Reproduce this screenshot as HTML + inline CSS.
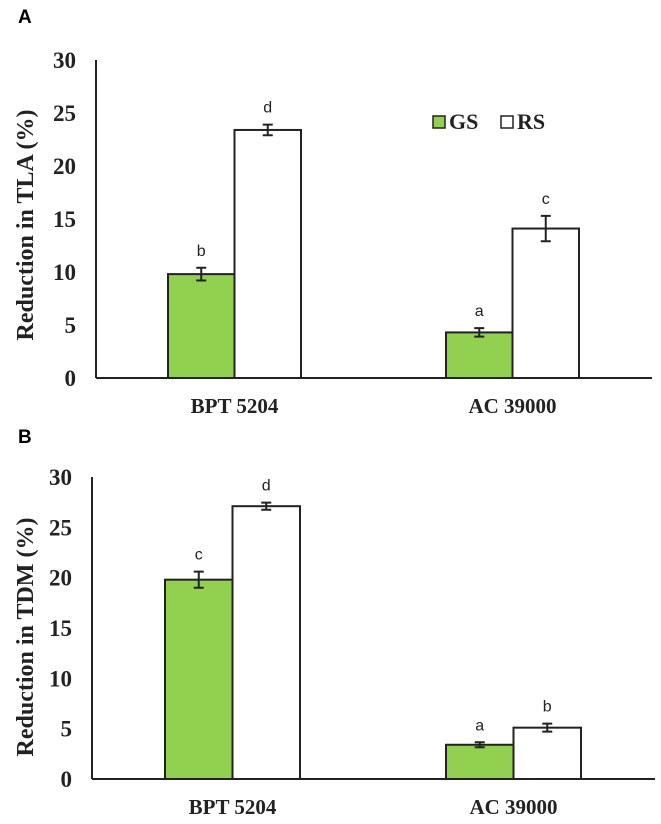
<!DOCTYPE html>
<html><head><meta charset="utf-8"><style>
body{margin:0;background:#fff;}
svg{display:block;}
.tick{font-family:"Liberation Serif",serif;font-weight:bold;font-size:23px;fill:#222;}
.ttl{font-family:"Liberation Serif",serif;font-weight:bold;font-size:24px;fill:#222;}
.lg{font-family:"Liberation Serif",serif;font-weight:bold;font-size:22px;fill:#222;}
.cat{font-family:"Liberation Serif",serif;font-weight:bold;font-size:21px;fill:#222;}
.let{font-family:"Liberation Sans",sans-serif;font-size:16px;fill:#222;}
.pl{font-family:"Liberation Sans",sans-serif;font-weight:bold;font-size:19px;fill:#000;}
</style></head><body>
<svg id="chart" width="661" height="824" viewBox="0 0 661 824" xmlns="http://www.w3.org/2000/svg">
<rect width="661" height="824" fill="#fff"/>
<text class="pl" x="18" y="23">A</text>
<text class="pl" x="18" y="443">B</text>
<g>
<rect x="433" y="116" width="12" height="12" fill="#92d050" stroke="#222" stroke-width="1.5"/>
<text class="lg" x="449" y="129">GS</text>
<rect x="501" y="116" width="12" height="12" fill="#fff" stroke="#222" stroke-width="1.5"/>
<text class="lg" x="517" y="129">RS</text>
</g>
</svg>
<script>
const categories = ["BPT 5204", "AC 39000"];
const ticks = [0, 5, 10, 15, 20, 25, 30];
const tlaGS = [9.8, 4.3];
const tlaRS = [23.4, 14.1];
const tlaGSerr = [0.6, 0.4];
const tlaRSerr = [0.5, 1.2];
const tlaGSlet = ["b", "a"];
const tlaRSlet = ["d", "c"];
const tdmGS = [19.8, 3.4];
const tdmRS = [27.1, 5.1];
const tdmGSerr = [0.8, 0.25];
const tdmRSerr = [0.35, 0.4];
const tdmGSlet = ["c", "a"];
const tdmRSlet = ["d", "b"];

const NS = "http://www.w3.org/2000/svg";
const svg = document.getElementById('chart');
function mk(tag, attrs, parent){
  const e = document.createElementNS(NS, tag);
  for (const k in attrs) e.setAttribute(k, attrs[k]);
  parent.appendChild(e); return e;
}
function panel(p, name, title, gs, rs, gse, rse, gsl, rsl){
  const g = mk('g', {}, svg);
  
  
  const y = v => p.y0 - (v / 30) * (p.y0 - p.y30);
  const groupStart = [p.g1, p.g2];
  const bw = p.bw;
  ticks.forEach(t => {
    const tx = mk('text', {class:'tick', x:p.ax - 20, y:y(t) + 8, 'text-anchor':'end'}, g);
    tx.textContent = t;
    
    
  });
  const tt = mk('text', {class:'ttl', x:0, y:0, 'text-anchor':'middle', transform:`translate(${p.tx},${p.ty}) rotate(-90)`}, g);
  tt.textContent = title;
  
  
  categories.forEach((c, i) => {
    const x0 = groupStart[i];
    [[gs, gse, gsl, '#92d050', 'gs'], [rs, rse, rsl, '#ffffff', 'rs']].forEach((s, j) => {
      const v = s[0][i], e = s[1][i];
      const x = x0 + j * bw;
      const r = mk('rect', {x:x, y:y(v), width:bw, height:y(0) - y(v), fill:s[3], stroke:'#222', 'stroke-width':2}, g);
      
      
      const cx = x + bw / 2;
      const eb = mk('path', {d:`M${cx},${y(v+e)}V${y(v-e)}M${cx-5},${y(v+e)}H${cx+5}M${cx-5},${y(v-e)}H${cx+5}`, stroke:'#222', 'stroke-width':2, fill:'none'}, g);
      
      
      const lt = mk('text', {class:'let', x:cx, y:y(v+e) - 12, 'text-anchor':'middle'}, g);
      lt.textContent = s[2][i];
      
      
    });
    const ct = mk('text', {class:'cat', x:x0 + bw, y:p.y0 + 35, 'text-anchor':'middle'}, g);
    ct.textContent = c;
    
    
  });
  const ya = mk('line', {x1:p.ax, y1:p.y30, x2:p.ax, y2:p.y0, stroke:'#222', 'stroke-width':2}, g);
  
  
  const xa = mk('line', {x1:p.ax, y1:p.y0, x2:p.xend, y2:p.y0, stroke:'#222', 'stroke-width':2}, g);
  
  
}
panel({ax:96, y0:378, y30:60, g1:168, g2:446, bw:66.5, xend:652, tx:33, ty:225}, 'panel-a-chart', 'Reduction in TLA (%)', tlaGS, tlaRS, tlaGSerr, tlaRSerr, tlaGSlet, tlaRSlet);
panel({ax:92, y0:779, y30:477, g1:165, g2:446, bw:67.5, xend:655, tx:33, ty:637}, 'panel-b-chart', 'Reduction in TDM (%)', tdmGS, tdmRS, tdmGSerr, tdmRSerr, tdmGSlet, tdmRSlet);
</script>
</body></html>
